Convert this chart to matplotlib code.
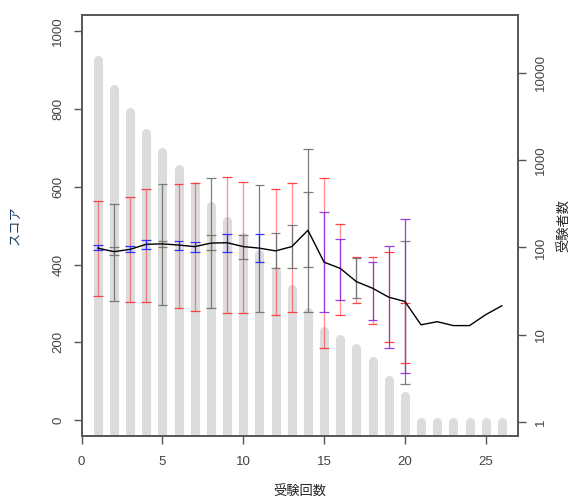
import matplotlib
matplotlib.use("Agg")
import matplotlib.pyplot as plt
import numpy as np

plt.rcParams['font.family'] = ['Liberation Sans', 'Noto Sans CJK JP', 'DejaVu Sans']

# 受験回数
attempts = np.arange(1, 27)
# 受験者数 (right axis, log)
examinees = [14000, 6600, 3550, 2050, 1250, 780, 500, 295, 200, 130, 83, 53, 33,
             18, 11, 9, 7, 5, 3, 2, 1, 1, 1, 1, 1, 1]
# mean score
mean_score = [442, 433, 439, 452, 453, 450, 446, 455, 456, 446, 442, 435, 446,
              488, 406, 390, 356, 339, 316, 305, 245, 253, 243, 243, 271, 294]

# error bars: x, low, high, colour
err_x = [1, 1, 2, 2, 3, 3, 4, 4, 5, 5, 6, 6, 7, 7, 8, 8, 9, 9, 10, 10,
         11, 11, 12, 12, 13, 13, 14, 14, 15, 15, 16, 16, 17, 17, 18, 18,
         19, 19, 20, 20, 20]
err_lo = [319, 437, 307, 425, 303, 432, 303, 440, 296, 446, 289, 437, 281, 431,
          288, 436, 275, 433, 275, 414, 278, 406, 271, 390, 279, 391, 278, 394,
          185, 277, 271, 309, 300, 313, 248, 258, 200, 185, 93, 122, 148]
err_hi = [564, 450, 555, 445, 574, 447, 593, 462, 607, 461, 607, 461, 610, 459,
          622, 476, 625, 478, 613, 476, 604, 478, 593, 480, 610, 501, 698, 587,
          623, 534, 504, 465, 420, 416, 419, 407, 431, 448, 461, 517, 300]
err_col = ['r', 'b', 'g', 'g', 'r', 'b', 'r', 'b', 'g', 'g', 'r', 'b', 'r', 'b',
           'g', 'g', 'r', 'b', 'r', 'g', 'g', 'b', 'r', 'g', 'r', 'g', 'g', 'g',
           'r', 'p', 'r', 'p', 'r', 'g', 'r', 'p', 'r', 'p', 'g', 'p', 'r']

colour_map = {'r': '#FF3030', 'b': '#2020FF', 'g': '#707070', 'p': '#8A2BE2'}

fig = plt.figure(figsize=(5.76, 5.03), dpi=100)
ax = fig.add_axes([0.1418, 0.1338, 0.7575, 0.8354])
ax2 = ax.twinx()

# grey count bars behind everything
ax2.set_yscale('log')
ax2.set_ylim(10 ** -0.157, 10 ** 4.656)
bars = ax2.vlines(attempts, 10 ** -0.157, examinees, colors='#DCDCDC', linewidth=6.5)
bars.set_capstyle('round')
ax.set_zorder(ax2.get_zorder() + 1)
ax.patch.set_visible(False)

cap = 0.3
for x, lo, hi, c in zip(err_x, err_lo, err_hi, err_col):
    col = colour_map[c]
    alpha = 0.55 if c == 'r' else 0.9
    ax.vlines(x, lo, hi, colors=col, linewidth=0.9, alpha=alpha)
    ax.hlines([lo, hi], x - cap, x + cap, colors=col, linewidth=0.9, alpha=0.9)

ax.plot(attempts, mean_score, color='black', linewidth=1.0)

ax.set_xlim(0, 27)
ax.set_ylim(-40, 1040)
ax.set_xticks([0, 5, 10, 15, 20, 25])
ax.set_yticks([0, 200, 400, 600, 800, 1000])
ax2.set_yticks([1, 10, 100, 1000, 10000])
ax2.set_yticklabels(['1', '10', '100', '1000', '10000'])
ax2.yaxis.set_minor_locator(matplotlib.ticker.NullLocator())

for a in (ax, ax2):
    for s in a.spines.values():
        s.set_color('#555555')
        s.set_linewidth(1.2)
    a.tick_params(length=5.5, width=1.0, color='#555555', labelcolor='#444444',
                  labelsize=9.5, pad=7)
ax.tick_params(axis='x', pad=9)

for lab in ax.get_yticklabels():
    lab.set_rotation(90)
    lab.set_va('center')
for lab in ax2.get_yticklabels():
    lab.set_rotation(90)
    lab.set_va('center')

ax.set_xlabel('受験回数', fontsize=9.5, color='#222222', labelpad=13,
              family=['Noto Sans CJK JP'])
ax.set_ylabel('スコア', fontsize=9.5, color='#1F3F66', labelpad=22,
              family=['Noto Sans CJK JP'])
ax2.set_ylabel('受験者数', fontsize=9.5, color='#222222', labelpad=8,
               family=['Noto Sans CJK JP'])

fig.savefig('out.png', dpi=100)
